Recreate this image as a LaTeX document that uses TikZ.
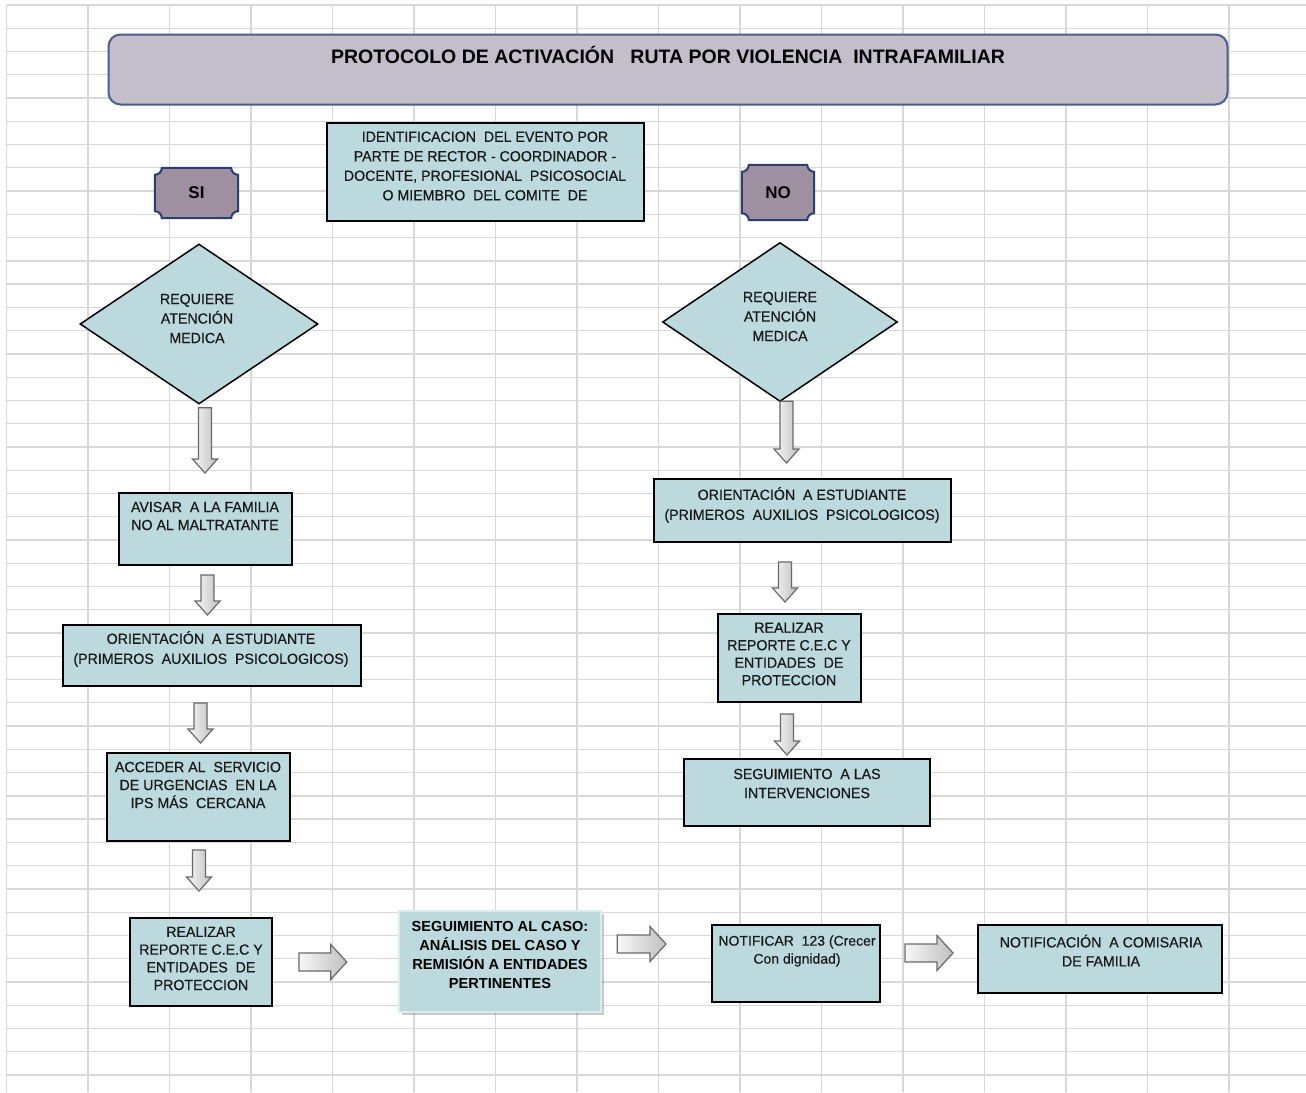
\documentclass[tikz,border=0pt]{standalone}
\usepackage{fontspec}
\setmainfont{Liberation Sans}
\newfontfamily\boxfont{Liberation Sans}[FakeStretch=0.965,FakeBold=0.5]
\newfontfamily\boxfontn{Liberation Sans}[FakeBold=0.4]
\usetikzlibrary{shapes.geometric,shadows,calc,backgrounds}
\definecolor{boxfill}{RGB}{188,218,222}
\definecolor{ttlfill}{RGB}{196,189,202}
\definecolor{ttldraw}{RGB}{74,94,142}
\definecolor{sifill}{RGB}{158,144,160}
\definecolor{sidraw}{RGB}{45,62,110}
\definecolor{gridc}{RGB}{216,216,216}
\definecolor{txtc}{RGB}{25,25,25}
\definecolor{arrdraw}{RGB}{105,105,105}
\pgfdeclarelayer{gridlayer}
\pgfsetlayers{gridlayer,background,main}
\newcommand\lsz[1]{\boxfont\fontsize{14.7}{#1}\selectfont}
\newcommand\blkdown[2]{\path[blockarrow] let \p1=(#1), \p2=(#2) in (\x1-6.5pt,\y1) -- (\x1+6.5pt,\y1) -- (\x1+6.5pt,\y2+14pt) -- (\x1+12.5pt,\y2+14pt) -- (\x1,\y2) -- (\x1-12.5pt,\y2+14pt) -- (\x1-6.5pt,\y2+14pt) -- cycle;}
\newcommand\blkright[2]{\path[blockarrow] let \p1=(#1), \p2=(#2) in (\x1,\y1+9pt) -- (\x2-16pt,\y1+9pt) -- (\x2-16pt,\y1+17.5pt) -- (\x2,\y1) -- (\x2-16pt,\y1-17.5pt) -- (\x2-16pt,\y1-9pt) -- (\x1,\y1-9pt) -- cycle;}
\newcommand\plaquepath[1]{\draw[plaque] ([xshift=7pt]#1.north west) -- ([xshift=-7pt]#1.north east) arc[start angle=180,end angle=270,radius=7pt] -- ([yshift=7pt]#1.south east) arc[start angle=90,end angle=180,radius=7pt] -- ([xshift=7pt]#1.south west) arc[start angle=0,end angle=90,radius=7pt] -- ([yshift=-7pt]#1.north west) arc[start angle=-90,end angle=0,radius=7pt] -- cycle;}
\tikzset{
  x=1pt, y=1pt,
  gridline/.style={draw=gridc, line width=1.3pt},
  box/.style={draw=black, line width=2pt, fill=boxfill, inner sep=0pt},
  txt/.style={font=\lsz{18}, align=center, text=txtc, inner sep=0pt},
  dia/.style={diamond, draw=black, line width=1.5pt, fill=boxfill, inner sep=0pt},
  sino/.style={font=\bfseries\fontsize{17}{20}\selectfont, inner sep=0pt, text=black},
  plaque/.style={draw=sidraw, line width=2pt, fill=sifill},
  blockarrow/.style={draw=arrdraw, line width=1.2pt, left color=gray!6, right color=gray!50},
}
\begin{document}
\begin{tikzpicture}
\useasboundingbox (0,0) rectangle (1306,-1092);
% grid background
\begin{pgfonlayer}{gridlayer}
\fill[white] (0,0) rectangle (1306,-1092);
\foreach \gx in {6.5,88,169.5,251,332.5,414,495.5,577,658.5,740,821.5,903,984.5,1066,1147.5,1229}
  \draw[gridline] (\gx,-5) -- (\gx,-1092);
\foreach \k in {0,...,46}
  \draw[gridline] (6.5,{-5-23.26*\k}) -- (1306,{-5-23.26*\k});
\end{pgfonlayer}

% title
\node[draw=ttldraw, line width=2pt, fill=ttlfill, rounded corners=12pt, minimum width=1119pt, minimum height=70pt, inner sep=0pt] (title) at (668,-69.5) {};
\node[font=\bfseries\fontsize{19.5}{22}\selectfont, inner sep=0pt, anchor=base, text=black] (titleT) at (668,-63.5) {PROTOCOLO DE ACTIVACIÓN\ \ \ RUTA POR VIOLENCIA\ \ INTRAFAMILIAR};

% identification
\node[box, minimum width=317pt, minimum height=98pt] (idb) at (485.5,-172) {};
\node[txt, font=\lsz{19.5}] (idT) at (485,-166) {IDENTIFICACION\ \ DEL EVENTO POR\\PARTE DE RECTOR - COORDINADOR -\\DOCENTE, PROFESIONAL\ \ PSICOSOCIAL\\O MIEMBRO\ \ DEL COMITE\ \ DE};

% SI / NO
\node[sino, minimum width=83pt, minimum height=50pt] (si) at (196.5,-193) {SI};
\node[sino, minimum width=72pt, minimum height=55pt] (no) at (778,-192.5) {NO};
\begin{pgfonlayer}{background}
\plaquepath{si}
\plaquepath{no}
\end{pgfonlayer}

% diamonds
\node[dia, minimum width=238pt, minimum height=160pt] (dL) at (199,-324) {};
\node[txt, font=\lsz{19.5}] (dLT) at (197,-318.5) {REQUIERE\\ATENCIÓN\\MEDICA};
\node[dia, minimum width=235pt, minimum height=159pt] (dR) at (780,-322) {};
\node[txt, font=\lsz{19.5}] (dRT) at (780,-316.5) {REQUIERE\\ATENCIÓN\\MEDICA};

% left column
\node[box, minimum width=173pt, minimum height=72pt] (av) at (205.5,-529) {};
\node[txt] (avT) at (205,-516) {AVISAR\ \ A LA FAMILIA\\NO AL MALTRATANTE};
\node[box, minimum width=298pt, minimum height=61pt] (oL) at (212,-655.5) {};
\node[txt, font=\lsz{20}] (oLT) at (211,-649) {ORIENTACIÓN\ \ A ESTUDIANTE\\(PRIMEROS\ \ AUXILIOS\ \ PSICOLOGICOS)};
\node[box, minimum width=183pt, minimum height=88pt] (ac) at (198.5,-797) {};
\node[txt] (acT) at (198,-785) {ACCEDER AL\ \ SERVICIO\\DE URGENCIAS\ \ EN LA\\IPS MÁS\ \ CERCANA};
\node[box, minimum width=142pt, minimum height=88pt] (rL) at (201,-962) {};
\node[txt, font=\lsz{17.7}] (rLT) at (201,-958.5) {REALIZAR\\REPORTE C.E.C Y\\ENTIDADES\ \ DE\\PROTECCION};

% bottom row
\node[box, draw=boxfill!55!white, line width=2.5pt, minimum width=202pt, minimum height=101pt,
      drop shadow={opacity=0.35, shadow xshift=2.5pt, shadow yshift=-2.5pt, fill=black!60}] (sC) at (500,-961.5) {};
\node[txt, font=\bfseries\fontsize{14.6}{19}\selectfont, text=black] (sCT) at (500,-954.5) {SEGUIMIENTO AL CASO:\\ANÁLISIS DEL CASO Y\\REMISIÓN A ENTIDADES\\PERTINENTES};
\node[box, minimum width=168pt, minimum height=77pt] (n1) at (796,-963.5) {};
\node[txt, font=\boxfontn\fontsize{14}{18}\selectfont] (n1T) at (797,-951) {NOTIFICAR\ \ 123 (Crecer\\Con dignidad)};
\node[box, minimum width=244pt, minimum height=68pt] (n2) at (1100,-959) {};
\node[txt, font=\lsz{19}] (n2T) at (1101,-950.5) {NOTIFICACIÓN\ \ A COMISARIA\\DE FAMILIA};

% right column
\node[box, minimum width=297pt, minimum height=63pt] (oR) at (802.5,-510.5) {};
\node[txt, font=\lsz{20}] (oRT) at (802,-505) {ORIENTACIÓN\ \ A ESTUDIANTE\\(PRIMEROS\ \ AUXILIOS\ \ PSICOLOGICOS)};
\node[box, minimum width=143pt, minimum height=88pt] (rR) at (789.5,-658) {};
\node[txt, font=\lsz{17.5}] (rRT) at (789,-654) {REALIZAR\\REPORTE C.E.C Y\\ENTIDADES\ \ DE\\PROTECCION};
\node[box, minimum width=246pt, minimum height=67pt] (sR) at (807,-792.5) {};
\node[txt, font=\lsz{19}] (sRT) at (807,-783.5) {SEGUIMIENTO\ \ A LAS\\INTERVENCIONES};

% block arrows
\blkdown{[xshift=6pt,yshift=-3pt]dL.south}{[yshift=19pt]av.north}
\blkdown{[xshift=2pt,yshift=-9pt]av.south}{[yshift=9pt]oL.north}
\blkdown{[xshift=-11.5pt,yshift=-16pt]oL.south}{[yshift=9pt]ac.north}
\blkdown{[xshift=0.5pt,yshift=-8pt]ac.south}{[yshift=26pt]rL.north}
\blkdown{[xshift=6.5pt,yshift=1pt]dR.south}{[yshift=15pt]oR.north}
\blkdown{[xshift=-17.5pt,yshift=-19pt]oR.south}{[yshift=11pt]rR.north}
\blkdown{[xshift=-2.5pt,yshift=-11pt]rR.south}{[yshift=3pt]sR.north}
\blkright{[xshift=26pt]rL.east}{[xshift=-51pt]sC.west}
\blkright{[xshift=15pt,yshift=17.5pt]sC.east}{[xshift=-45pt]n1.west}
\blkright{[xshift=24pt,yshift=10.5pt]n1.east}{[xshift=-24pt]n2.west}
\end{tikzpicture}
\end{document}
